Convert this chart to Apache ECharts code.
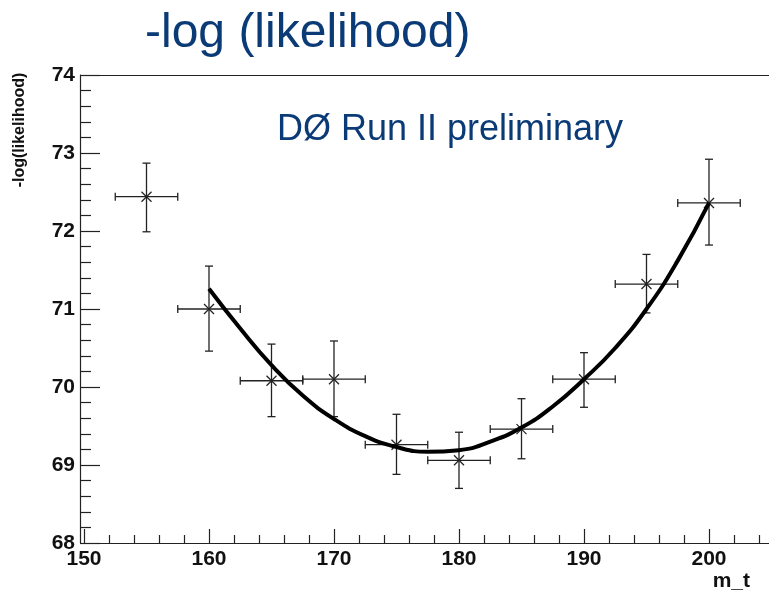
<!DOCTYPE html>
<html>
<head>
<meta charset="utf-8">
<script src="https://cdn.jsdelivr.net/npm/echarts@6/dist/echarts.min.js"></script>
<style>
  html, body { margin: 0; padding: 0; background: #fff; }
  #main { width: 769px; height: 593px; }
</style>
</head>
<body>
<div id="main"></div>
<script>
// measured points: top mass, -log(L), error bar ends
const massPoints = [155, 160, 165, 170, 175, 180, 185, 190, 195, 200];
const nllValues = [72.44, 71.00, 70.08, 70.10, 69.26, 69.06, 69.46, 70.10, 71.32, 72.36];
const nllUpper = [72.87, 71.55, 70.55, 70.59, 69.65, 69.42, 69.85, 70.44, 71.70, 72.92];
const nllLower = [71.99, 70.46, 69.62, 69.62, 68.88, 68.70, 69.08, 69.74, 70.95, 71.82];
const massErr = [2.5, 2.5, 2.5, 2.5, 2.5, 2.5, 2.5, 2.5, 2.5, 2.5];

// fitted curve
const fitMass = [160, 162.5, 165, 167.5, 170, 172.5, 175, 177.5, 180, 182.5, 185, 187.5, 190, 192.5, 195, 197.5, 200];
const fitNll = [71.26, 70.75, 70.28, 69.89, 69.59, 69.37, 69.23, 69.17, 69.19, 69.30, 69.48, 69.75, 70.10, 70.50, 71.00, 71.62, 72.36];

const titleText = '-log (likelihood)';
const labelText = 'DØ Run II preliminary';
const yTitle = '-log(likelihood)';
const xTitle = 'm_t';

var chartDom = document.getElementById('main');
var myChart = echarts.init(chartDom);

const fontFam = "'Liberation Sans', Arial, sans-serif";
const blue = '#0b3b76';
const ink = '#222';

const errData = massPoints.map((m, i) => [m, nllValues[i], massErr[i], nllLower[i], nllUpper[i]]);

const renderErr = (params, api) => {
	const x = api.value(0), y = api.value(1), xe = api.value(2);
	const c = api.coord([x, y]);
	const l = api.coord([x - xe, y]);
	const r = api.coord([x + xe, y]);
	const t = api.coord([x, api.value(4)]);
	const b = api.coord([x, api.value(3)]);
	const cap = 4, m = 5;
	const st = { stroke: ink, lineWidth: 1.3, fill: null };
	const line = (x1, y1, x2, y2) => ({ type: 'line', shape: { x1, y1, x2, y2 }, style: st });
	return {
		type: 'group',
		children: [
			line(l[0], l[1], r[0], r[1]),
			line(t[0], t[1], b[0], b[1]),
			line(l[0], l[1] - cap, l[0], l[1] + cap),
			line(r[0], r[1] - cap, r[0], r[1] + cap),
			line(t[0] - cap, t[1], t[0] + cap, t[1]),
			line(b[0] - cap, b[1], b[0] + cap, b[1]),
			line(c[0] - m, c[1] - m, c[0] + m, c[1] + m),
			line(c[0] - m, c[1] + m, c[0] + m, c[1] - m)
		]
	};
};

var option = {
	animation: false,
	backgroundColor: '#fff',
	grid: {
		left: 84,
		right: -65,
		top: 75,
		bottom: 50,
		containLabel: false,
		outerBoundsMode: 'none'
	},
	xAxis: [
		{
			type: 'value',
			min: 150,
			max: 210,
			interval: 10,
			position: 'bottom',
			axisLine: { lineStyle: { color: ink, width: 1.2 } },
			axisTick: { inside: true, length: 14, lineStyle: { color: ink, width: 1.2 } },
			minorTick: { show: true, splitNumber: 5, length: 8, lineStyle: { color: ink, width: 1.2 } },
			axisLabel: {
				color: '#111',
				fontSize: 21,
				fontWeight: 'bold',
				fontFamily: fontFam,
				margin: 6
			},
			splitLine: { show: false }
		},
		{
			type: 'value',
			min: 150,
			max: 210,
			position: 'top',
			axisLine: { show: true, lineStyle: { color: ink, width: 1.2 } },
			axisTick: { show: false },
			axisLabel: { show: false },
			splitLine: { show: false }
		}
	],
	yAxis: {
		type: 'value',
		min: 68,
		max: 74,
		interval: 1,
		offset: 4,
		axisLine: { show: true, lineStyle: { color: ink, width: 1.2 } },
		axisTick: { show: true, inside: true, length: 20, lineStyle: { color: ink, width: 1.2 } },
		minorTick: { show: true, splitNumber: 5, length: 11, lineStyle: { color: ink, width: 1.2 } },
		axisLabel: {
			color: '#111',
			fontSize: 21,
			fontWeight: 'bold',
			fontFamily: fontFam,
			margin: 5
		},
		splitLine: { show: false }
	},
	graphic: {
		elements: [
			{
				type: 'text',
				x: 145,
				y: 34,
				style: {
					text: titleText,
					fill: blue,
					font: '48px ' + fontFam,
					align: 'left', textAlign: 'left',
					verticalAlign: 'middle', textVerticalAlign: 'middle'
				}
			},
			{
				type: 'text',
				x: 277,
				y: 130,
				style: {
					text: labelText,
					fill: blue,
					font: '36px ' + fontFam,
					align: 'left', textAlign: 'left',
					verticalAlign: 'middle', textVerticalAlign: 'middle'
				}
			},
			{
				type: 'text',
				x: 20,
				y: 130,
				rotation: Math.PI / 2,
				style: {
					text: yTitle,
					fill: '#111',
					font: 'bold 16px ' + fontFam,
					align: 'center', textAlign: 'center',
					verticalAlign: 'middle', textVerticalAlign: 'middle'
				}
			},
			{
				type: 'text',
				x: 750,
				y: 581,
				style: {
					text: xTitle,
					fill: '#111',
					font: 'bold 21px ' + fontFam,
					align: 'right', textAlign: 'right',
					verticalAlign: 'middle', textVerticalAlign: 'middle'
				}
			}
		]
	},
	series: [
		{
			type: 'custom',
			name: 'points',
			renderItem: renderErr,
			data: errData,
			z: 2
		},
		{
			type: 'line',
			name: 'fit',
			data: fitMass.map((m, i) => [m, fitNll[i]]),
			smooth: true,
			showSymbol: false,
			lineStyle: { color: '#000', width: 4 },
			z: 3
		}
	]
};

option && myChart.setOption(option);
</script>
</body>
</html>
